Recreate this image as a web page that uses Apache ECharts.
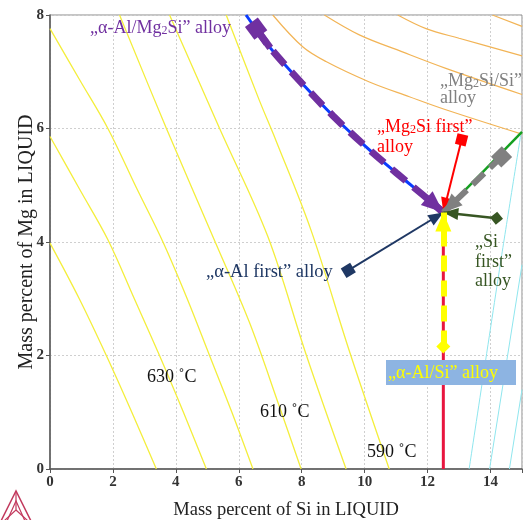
<!DOCTYPE html>
<html>
<head>
<meta charset="utf-8">
<script src="https://cdn.jsdelivr.net/npm/echarts@6/dist/echarts.min.js"></script>
<style>
  html, body { margin: 0; padding: 0; background: #ffffff; }
  #chart { width: 523px; height: 520px; }
</style>
</head>
<body>
<div id="chart"></div>
<script>
// axis ranges / ticks
const xTicks = [0, 2, 4, 6, 8, 10, 12, 14];
const yTicks = [0, 2, 4, 6, 8];
const xMax = 15;

// alpha-Al liquidus isotherms (Si wt%, Mg wt%)
const iso640 = [[0, 3.98], [0.93, 3.0], [1.79, 2.0], [2.6, 1.0], [3.38, 0]];
const iso630 = [[0, 5.86], [0.95, 4.92], [1.84, 4.04], [2.68, 3.0], [3.48, 2.0], [4.24, 1.0], [4.97, 0]];
const iso620 = [[0, 7.76], [0.95, 6.85], [1.84, 6.0], [2.75, 4.95], [3.59, 4.0], [4.36, 3.0], [5.07, 2.0], [5.78, 1.0], [6.45, 0]];
const iso610 = [[2.21, 8], [3.70, 6.0], [5.25, 4.0], [6.34, 2.58], [7.29, 1.1], [7.98, 0]];
const iso600 = [[3.80, 8], [5.39, 6.0], [6.92, 4.1], [8.15, 2.0], [9.41, 0]];
const iso590 = [[5.6, 8], [6.65, 6.5], [7.18, 5.79], [8.3, 4.2], [9.5, 2.1], [10.78, 0]];

// Mg2Si liquidus isotherms
const mgIso1 = [[7.08, 8], [8.03, 7.44], [8.77, 7.18], [10.15, 6.82], [11.42, 6.56], [12.58, 6.33], [15, 5.9]];
const mgIso2 = [[8.72, 8], [9.83, 7.65], [11.2, 7.35], [12.58, 7.06], [15, 6.6]];
const mgIso3 = [[11.05, 8], [11.95, 7.76], [13.0, 7.59], [15, 7.28]];
const mgIso4 = [[14.06, 8], [15, 7.8]];

// Si liquidus isotherms
const siIso1 = [[13.32, 0], [14.33, 3.68], [14.97, 5.92]];
const siIso2 = [[13.97, 0], [15, 3.6]];
const siIso3 = [[14.6, 0], [15, 1.4]];

// monovariant valleys
const eutectic = [12.5, 4.52];
const valleyAlMg2Si = [[6.23, 8], [7.0, 7.42], [8.0, 6.8], [9.0, 6.22], [10.0, 5.7], [11.0, 5.22], [12.0, 4.76], eutectic];
const valleyAlSi = [[12.5, 0], eutectic];
const valleyMg2SiSi = [eutectic, [15, 5.94]];

// alloy start points (solidification paths end at the eutectic)
const alloyAlMg2Si = [6.55, 7.76];
const alloyMg2SiFirst = [13.08, 5.80];
const alloyMg2SiSi = [14.35, 5.50];
const alloySiFirst = [14.19, 4.42];
const alloyAlFirst = [9.48, 3.50];
const alloyAlSi = [12.5, 2.16];

const serif = '"Liberation Serif", "DejaVu Serif", serif';

// triangle head with its tip at the symbol centre, so the tip lands on the end point
function headPath(len, half) {
  return 'path://M0,0L' + half + ',' + len + 'L' + (-half) + ',' + len + 'Z' +
    'M' + (-len) + ',' + (-len) + 'L' + (-len) + ',' + (-len) +
    'M' + len + ',' + len + 'L' + len + ',' + len;
}

function curve(data, color, width, dash, smooth) {
  return {
    type: 'line',
    data: data,
    smooth: smooth === undefined ? 0.35 : smooth,
    showSymbol: false,
    symbol: 'none',
    silent: true,
    z: 2,
    lineStyle: { color: color, width: width, type: dash || 'solid' }
  };
}

function arrow(from, to, color, width, dash, startSymbol, startSize, headLen, headHalf) {
  return {
    type: 'lines',
    coordinateSystem: 'cartesian2d',
    silent: true,
    z: 6,
    symbol: [startSymbol, headPath(headLen, headHalf)],
    symbolSize: [startSize, headLen * 2],
    lineStyle: { color: color, width: width, type: dash || 'solid', opacity: 1 },
    data: [{ coords: [from, to] }]
  };
}

function label(x, y, text, color, size) {
  return {
    type: 'text', x: x, y: y, silent: true, z: 100,
    style: {
      text: text, font: (size || 18) + 'px ' + serif, fill: color, verticalAlign: 'middle',
      rich: { s: { fontSize: 12, fontFamily: serif, fill: color, verticalAlign: 'bottom' } }
    }
  };
}

const yellow = '#f4ee3c';
const orange = '#f2b456';
const cyan = '#8fe6ee';

const purplePath = [alloyAlMg2Si].concat(valleyAlMg2Si.slice(1));

const chart = echarts.init(document.getElementById('chart'), null, { renderer: 'canvas' });

chart.setOption({
  animation: false,
  backgroundColor: '#ffffff',
  grid: {
    left: 50, right: 1, top: 15, bottom: 51, outerBoundsMode: 'none',
    show: true, borderColor: '#8a8a8a', borderWidth: 1
  },
  xAxis: {
    type: 'value',
    min: xTicks[0],
    max: xMax,
    interval: xTicks[1] - xTicks[0],
    name: 'Mass percent of Si in LIQUID',
    nameLocation: 'middle',
    nameGap: 32,
    nameMoveOverlap: false,
    nameTextStyle: { fontFamily: serif, fontSize: 18.5, color: '#222' },
    axisLine: { show: true, lineStyle: { color: '#555', width: 1.5 } },
    axisTick: { show: true, length: 4, lineStyle: { color: '#555' } },
    axisLabel: {
      fontFamily: serif, fontWeight: 'bold', fontSize: 15, color: '#333', margin: 6,
      formatter: function (v) { return xTicks.indexOf(v) >= 0 ? String(v) : ''; }
    },
    splitLine: { show: true, lineStyle: { color: '#cfcfcf', type: [2, 2], width: 1 } }
  },
  yAxis: {
    type: 'value',
    min: yTicks[0],
    max: yTicks[yTicks.length - 1],
    interval: yTicks[1] - yTicks[0],
    name: 'Mass percent of Mg in LIQUID',
    nameLocation: 'middle',
    nameGap: 13,
    nameMoveOverlap: false,
    nameTextStyle: { fontFamily: serif, fontSize: 20, color: '#222' },
    axisLine: { show: true, lineStyle: { color: '#555', width: 1.5 } },
    axisTick: { show: true, length: 4, lineStyle: { color: '#555' } },
    axisLabel: { fontFamily: serif, fontWeight: 'bold', fontSize: 15, color: '#333', margin: 6 },
    splitLine: { show: true, lineStyle: { color: '#cfcfcf', type: [2, 2], width: 1 } }
  },
  series: [
    curve(iso640, yellow, 1.3),
    curve(iso630, yellow, 1.3),
    curve(iso620, yellow, 1.3),
    curve(iso610, yellow, 1.3),
    curve(iso600, yellow, 1.3),
    curve(iso590, yellow, 1.3),
    curve(mgIso1, orange, 1.2),
    curve(mgIso2, orange, 1.2),
    curve(mgIso3, orange, 1.2),
    curve(mgIso4, orange, 1.2),
    curve(siIso1, cyan, 1, 'solid', 0.2),
    curve(siIso2, cyan, 1, 'solid', 0),
    curve(siIso3, cyan, 1, 'solid', 0),
    curve(valleyAlMg2Si, '#0a3cff', 3),
    curve(valleyAlSi, '#e8153f', 3, 'solid', 0),
    curve(valleyMg2SiSi, '#15a020', 2.5, 'solid', 0),
    // purple path along the alpha-Al/Mg2Si valley
    Object.assign(curve(purplePath, '#7030a0', 7, [18, 10]), { z: 5 }),
    arrow(purplePath[purplePath.length - 2], eutectic, '#7030a0', 7, 'solid', 'none', 1, 22, 9),
    arrow(alloyAlMg2Si, purplePath[1], '#7030a0', 7, 'solid', 'rect', 16, 1, 0.1),
    arrow(alloyMg2SiFirst, eutectic, '#ff0000', 2, 'solid', 'rect', 11, 15, 6),
    arrow(alloyMg2SiSi, eutectic, '#808080', 6, [16, 8], 'rect', 15, 19, 8),
    arrow(alloySiFirst, eutectic, '#375623', 2.5, 'solid', 'diamond', 13, 15, 6),
    arrow(alloyAlFirst, eutectic, '#1f3864', 2, 'solid', 'rect', 11, 15, 6),
    arrow(alloyAlSi, eutectic, '#ffff00', 6, [16, 9], 'diamond', 14, 19, 8)
  ],
  graphic: [
    label(90, 28, '„α-Al/Mg{s|2}Si” alloy', '#7030a0'),
    label(440, 81, '„Mg{s|2}Si/Si”', '#808080'),
    label(440, 98, 'alloy', '#808080'),
    label(377, 127, '„Mg{s|2}Si first”', '#ff0000'),
    label(377, 147, 'alloy', '#ff0000'),
    label(206, 272, '„α-Al first” alloy', '#1f3864', 18.5),
    label(475, 242, '„Si', '#375623'),
    label(475, 262, 'first”', '#375623'),
    label(475, 281, 'alloy', '#375623'),
    { type: 'rect', silent: true, z: 99, shape: { x: 386, y: 360, width: 130, height: 25 }, style: { fill: '#8db4e2' } },
    label(388, 373, '„α-Al/Si” alloy', '#ffff00'),
    label(147, 377, '630 ˚C', '#111'),
    label(260, 412, '610 ˚C', '#111'),
    label(367, 452, '590 ˚C', '#111'),
    // Thermo-Calc logo (bottom-left)
    {
      type: 'group', silent: true, z: 100,
      children: [
        { type: 'polyline', shape: { points: [[1, 521], [16, 491], [31, 521]] }, style: { stroke: '#c23a5e', lineWidth: 1.5, fill: null } },
        { type: 'polyline', shape: { points: [[7, 521], [16, 501], [25, 521]] }, style: { stroke: '#c23a5e', lineWidth: 1.2, fill: null } },
        { type: 'polyline', shape: { points: [[16, 491], [16, 510], [4, 521]] }, style: { stroke: '#c23a5e', lineWidth: 1.2, fill: null } },
        { type: 'line', shape: { x1: 16, y1: 510, x2: 28, y2: 521 }, style: { stroke: '#c23a5e', lineWidth: 1.2 } }
      ]
    }
  ]
});
</script>
</body>
</html>
